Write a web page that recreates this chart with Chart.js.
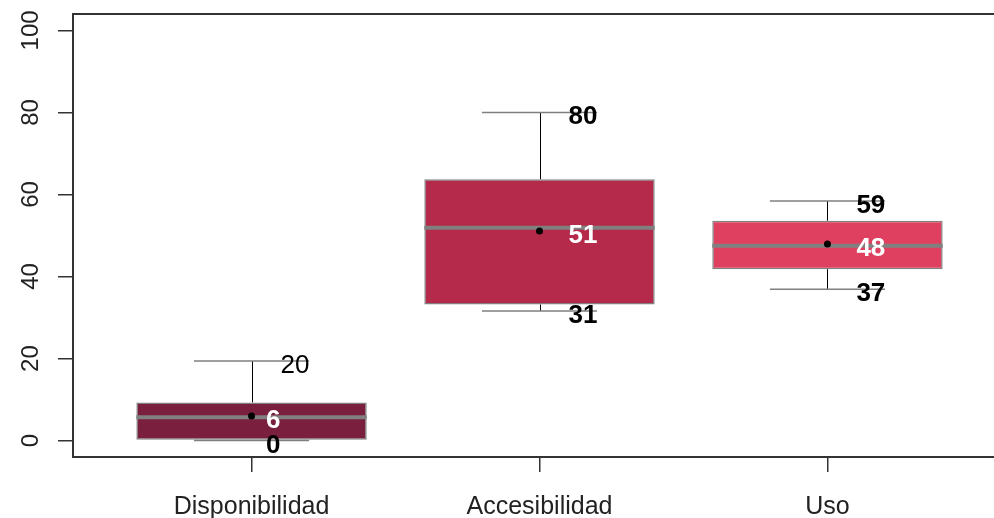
<!DOCTYPE html>
<html>
<head>
<meta charset="utf-8">
<script src="https://cdn.jsdelivr.net/npm/chart.js@4/dist/chart.umd.min.js"></script>
<style>
  html, body { margin: 0; padding: 0; background: #fff; overflow: hidden; }
  #wrap { width: 1012px; height: 518px; }
</style>
</head>
<body>
<div id="wrap"><canvas id="boxChart" width="1012" height="518"></canvas></div>
<script>
// Values
const categories = ['Disponibilidad', 'Accesibilidad', 'Uso'];
const q1 = [0, 33.2, 41.8];
const q3 = [9.3, 63.7, 53.6];
const medians = [5.7, 51.9, 47.5];
const means = [6.0, 51.1, 47.9];
const whiskerLow = [0, 31.6, 36.9];
const whiskerHigh = [19.4, 80, 58.4];
const highLabels = ['20', '80', '59'];
const lowLabels = ['0', '31', '37'];
const meanLabels = ['6', '51', '48'];
const yTicks = [0, 20, 40, 60, 80, 100];

const boxColors = ['#7a1f3d', '#b52a4a', '#e0405f'];
const highWeights = ['normal', 'bold', 'bold'];
const FONT = '"Liberation Sans", Arial, sans-serif';

// Whiskers, medians, labels, frame and y labels drawn from the scales
const boxExtras = {
  id: 'boxExtras',
  beforeDatasetsDraw(chart) {
    const { ctx, scales: { x, y } } = chart;
    ctx.save();
    categories.forEach((c, i) => {
      const cx = Math.round(x.getPixelForValue(i + 1)) + 0.5;
      const capL = x.getPixelForValue(i + 1 - 0.2);
      const capR = x.getPixelForValue(i + 1 + 0.2);
      // vertical whisker lines
      ctx.strokeStyle = '#000';
      ctx.lineWidth = 1;
      ctx.beginPath();
      ctx.moveTo(cx, y.getPixelForValue(whiskerHigh[i]));
      ctx.lineTo(cx, y.getPixelForValue(q3[i]));
      ctx.moveTo(cx, y.getPixelForValue(whiskerLow[i]));
      ctx.lineTo(cx, y.getPixelForValue(q1[i]));
      ctx.stroke();
      // caps
      ctx.strokeStyle = '#808080';
      ctx.lineWidth = 1.5;
      ctx.beginPath();
      [whiskerHigh[i], whiskerLow[i]].forEach(v => {
        const py = y.getPixelForValue(v);
        ctx.moveTo(capL, py);
        ctx.lineTo(capR, py);
      });
      ctx.stroke();
    });
    ctx.restore();
  },
  afterDatasetDraw(chart, args) {
    if (args.index !== 1) return;
    const { ctx, scales: { x, y } } = chart;
    ctx.save();
    ctx.strokeStyle = '#808080';
    ctx.lineWidth = 4;
    ctx.beginPath();
    categories.forEach((c, i) => {
      const py = y.getPixelForValue(medians[i]);
      ctx.moveTo(x.getPixelForValue(i + 1 - 0.4), py);
      ctx.lineTo(x.getPixelForValue(i + 1 + 0.4), py);
    });
    ctx.stroke();
    ctx.restore();
  },
  afterDatasetsDraw(chart) {
    const { ctx, chartArea: a, scales: { x, y } } = chart;
    ctx.save();
    // value labels
    ctx.textAlign = 'left';
    ctx.textBaseline = 'alphabetic';
    const put = (txt, cx, v, weight, color) => {
      ctx.font = weight + ' 26px ' + FONT;
      ctx.fillStyle = color;
      const w = ctx.measureText(txt).width;
      ctx.fillText(txt, cx + w, y.getPixelForValue(v) + 12);
    };
    categories.forEach((c, i) => {
      const cx = x.getPixelForValue(i + 1);
      put(highLabels[i], cx, whiskerHigh[i], highWeights[i], '#000');
      put(lowLabels[i], cx, whiskerLow[i], 'bold', '#000');
      put(meanLabels[i], cx, means[i], 'bold', '#fff');
    });
    // frame
    ctx.strokeStyle = '#333';
    ctx.lineWidth = 2;
    ctx.strokeRect(a.left, a.top, a.right - a.left, a.bottom - a.top);
    // rotated y tick labels
    ctx.fillStyle = '#222';
    ctx.font = '24px ' + FONT;
    ctx.textAlign = 'center';
    yTicks.forEach(v => {
      ctx.save();
      ctx.translate(38, y.getPixelForValue(v));
      ctx.rotate(-Math.PI / 2);
      ctx.fillText(String(v), 0, 0);
      ctx.restore();
    });
    ctx.restore();
  }
};

new Chart(document.getElementById('boxChart').getContext('2d'), {
  data: {
    datasets: [
      {
        type: 'scatter',
        data: categories.map((c, i) => ({ x: i + 1, y: means[i] })),
        backgroundColor: '#000',
        borderColor: '#000',
        pointRadius: 3.5,
        pointBorderWidth: 0
      },
      {
        type: 'bar',
        data: categories.map((c, i) => ({ x: i + 1, y: [q1[i], q3[i]] })),
        backgroundColor: boxColors,
        borderColor: '#808080',
        borderWidth: 1.5,
        borderSkipped: false,
        barPercentage: 0.8,
        categoryPercentage: 1
      }
    ]
  },
  options: {
    responsive: false,
    animation: false,
    events: [],
    layout: { padding: { top: 14, right: 6, left: 0, bottom: 0 } },
    plugins: { legend: { display: false }, tooltip: { enabled: false } },
    scales: {
      x: {
        type: 'linear',
        offset: false,
        min: 0.38,
        max: 3.62,
        afterBuildTicks: s => { s.ticks = categories.map((c, i) => ({ value: i + 1 })); },
        afterFit: s => { s.height = 61; },
        ticks: {
          callback: (v) => categories[v - 1] || '',
          color: '#222',
          font: { family: FONT, size: 25 },
          padding: 20,
          maxRotation: 0,
          autoSkip: false
        },
        grid: { offset: false, drawOnChartArea: false, drawTicks: true, tickLength: 15, color: '#333', lineWidth: 1.5 },
        border: { display: false }
      },
      y: {
        min: -4,
        max: 104,
        afterBuildTicks: s => { s.ticks = yTicks.map(v => ({ value: v })); },
        afterFit: s => { s.width = 73; },
        ticks: { display: false },
        grid: { drawOnChartArea: false, drawTicks: true, tickLength: 15, color: '#333', lineWidth: 1.5 },
        border: { display: false }
      }
    }
  },
  plugins: [boxExtras]
});
</script>
</body>
</html>
